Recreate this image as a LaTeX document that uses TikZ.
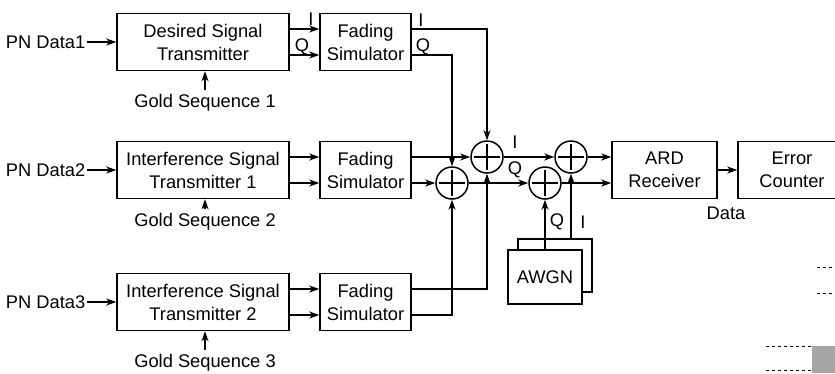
\documentclass[tikz,border=0pt]{standalone}
\usepackage{fontspec}
\setmainfont{Liberation Sans}
\usetikzlibrary{arrows.meta}

\begin{document}
\begin{tikzpicture}[
    x=1pt, y=-1pt,
    >={Stealth[length=10pt,width=7pt,inset=3pt]},
    line width=1.5pt,
    every node/.style={font=\fontsize{18.3}{23}\selectfont},
    blockbox/.style={draw, align=center, minimum height=57pt, inner sep=2pt},
    adder/.style={draw, circle, minimum size=32pt, inner sep=0pt,
        path picture={
            \draw ([yshift=-3pt]path picture bounding box.north) -- ([yshift=3pt]path picture bounding box.south)
                  ([xshift=3pt]path picture bounding box.west) -- ([xshift=-3pt]path picture bounding box.east);
        }}
]

\useasboundingbox (0,0) rectangle (835,373);
\clip (0,0) rectangle (835,373);

% Transmitters, fading simulators and their inputs
\foreach \i/\y/\g/\txt in {1/42/103/{Desired Signal\\Transmitter},
                            2/170/222/{Interference Signal\\Transmitter 1},
                            3/302/363/{Interference Signal\\Transmitter 2}} {
    \node[blockbox, minimum width=172pt] (T\i) at (203,\y) {\txt};
    \node[blockbox, minimum width=91pt] (F\i) at (365.5,\y) {Fading\\Simulator};
    \node[anchor=east, inner sep=1pt] (P\i) at (87,\y) {PN Data\i};
    \node (G\i) at (205,\g) {Gold Sequence \i};
    \draw[->] (P\i.east) -- (T\i.west);
    \draw[->] (G\i.north) -- (G\i.north |- T\i.south);
    \draw[->] ([yshift=13pt]T\i.east) -- ([yshift=13pt]F\i.west);
    \draw[->] ([yshift=-13pt]T\i.east) -- ([yshift=-13pt]F\i.west);
}

% I/Q labels of the desired signal
\node (ti) at (311,19) {I};
\node (tq) at (302,47) {Q};
\node (fi) at (421,20) {I};
\node (fq) at (423,47) {Q};

% Adders
\node[adder] (A) at (487,157) {};
\node[adder] (B) at (452,183) {};
\node[adder] (C) at (571,157) {};
\node[adder] (D) at (545,183) {};

% Receiver chain
\node[blockbox, minimum width=105pt] (R) at (664.5,170) {ARD\\Receiver};
\node[blockbox, minimum width=108pt] (EC) at (792,170) {Error\\Counter};
\node (data) at (726,213) {Data};

% Noise sources (I behind, Q in front)
\node[draw, fill=white, minimum width=74pt, minimum height=53pt] (N2) at (555,265.5) {};
\node[draw, fill=white, minimum width=74pt, minimum height=54pt] (N1) at (545,277) {AWGN};

% Fading outputs into the adders
\draw[->] ([yshift=13pt]F1.east) -| (A.north);
\draw[->] ([yshift=-13pt]F1.east) -| (B.north);
\draw[->] ([yshift=13pt]F2.east) -- (A.west);
\draw[->] ([yshift=-13pt]F2.east) -- (B.west);
\draw[->] ([yshift=13pt]F3.east) -| (A.south);
\draw[->] ([yshift=-13pt]F3.east) -| (B.south);

% Sums, noise and receiver
\draw[->] (A.east) -- (C.west);
\draw[->] (B.east) -- (D.west);
\node (si) at (515,142) {I};
\node (sq) at (515,170) {Q};
\draw[->] (N1.north) -- (D.south);
\draw[->] (C |- N2.north) -- (C.south);
\node (nq) at (557,222) {Q};
\node (ni) at (583,222) {I};
\draw[->] (C.east) -- (C.east -| R.west);
\draw[->] (D.east) -- (D.east -| R.west);
\draw[->] (R.east) -- (EC.west);

% Edge of the next figure
\draw[line width=0.8pt, dashed] (817,267) -- (835,267) (817,293) -- (835,293)
    (766,346) -- (812,346) (766,370) -- (812,370);
\fill[gray!70] (812,346) rectangle (835,373);

\end{tikzpicture}
\end{document}
